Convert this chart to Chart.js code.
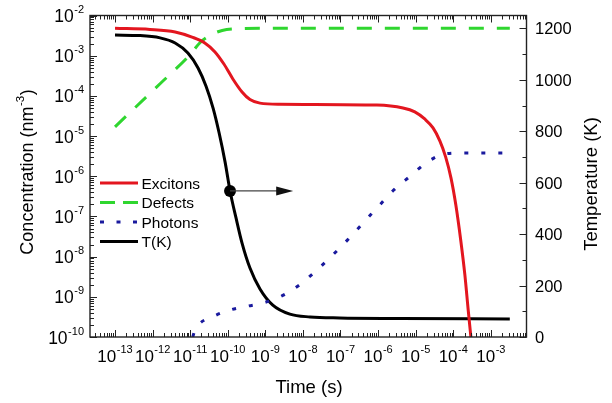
<!DOCTYPE html>
<html>
<head>
<meta charset="utf-8">
<script src="https://cdn.jsdelivr.net/npm/chart.js@4.4.1/dist/chart.umd.min.js"></script>
<style>
  html, body { margin: 0; padding: 0; background: #fff; }
</style>
</head>
<body>
<canvas id="chart" width="612" height="403"></canvas>
<script>
// values (time in s, concentration in nm^-3, T in K)
const timeExcitons = [1e-13, 8.5e-13, 3.98e-12, 1.12e-11, 2.45e-11, 4.57e-11, 7.9e-11, 1.38e-10, 2.4e-10, 3.9e-10, 7.2e-10, 2.45e-9, 9.3e-7, 4.6e-6, 9.5e-6, 1.74e-5, 2.9e-5, 4.4e-5, 6.3e-5, 8.7e-5, 1.17e-4, 1.58e-4, 2.04e-4, 2.5e-4, 2.95e-4, 3.4e-4];
const excitons = [4.8e-3, 4.5e-3, 3.9e-3, 2.9e-3, 2.07e-3, 1.24e-3, 6.2e-4, 2.6e-4, 1.25e-4, 8.1e-5, 6.6e-5, 6.2e-5, 5.9e-5, 5.0e-5, 4.0e-5, 2.66e-5, 1.6e-5, 7.6e-6, 3.0e-6, 9.1e-7, 1.95e-7, 2.6e-8, 3.5e-9, 4.7e-10, 1e-10, 2.7e-11];

const timeDefects = [1e-13, 1.58e-12, 1e-11, 1.82e-11, 3.4e-11, 7.1e-11, 2.1e-10, 1e-9, 3.2e-3];
const defects = [1.7e-5, 2.0e-4, 1.07e-3, 2.1e-3, 3.2e-3, 4.25e-3, 4.7e-3, 4.8e-3, 4.8e-3];

const timePhotons = [1.17e-11, 1.35e-11, 4.1e-11, 1.15e-10, 3.5e-10, 9.1e-10, 2.75e-9, 7.4e-9, 2.1e-8, 5.9e-8, 1.48e-7, 4.0e-7, 9.8e-7, 2.45e-6, 7.1e-6, 2.1e-5, 6.0e-5, 1.7e-4, 3.2e-3];
const photons = [1e-10, 1.5e-10, 3.2e-10, 4.7e-10, 5.9e-10, 7.1e-10, 1.05e-9, 1.86e-9, 4.2e-9, 1.05e-8, 2.5e-8, 6.9e-8, 1.7e-7, 4.3e-7, 1.0e-6, 2.3e-6, 3.6e-6, 3.8e-6, 3.8e-6];

const timeTemp = [1e-13, 4.6e-13, 1.58e-12, 3.98e-12, 8.7e-12, 1.62e-11, 2.63e-11, 4.07e-11, 5.9e-11, 8.5e-11, 1.15e-10, 1.66e-10, 2.4e-10, 3.9e-10, 7.2e-10, 1.58e-9, 4.5e-9, 1.55e-8, 9.5e-8, 3.8e-6, 3.2e-3];
const temperature = [1174, 1172, 1163, 1143, 1104, 1046, 976, 890, 793, 680, 568, 463, 365, 268, 187, 124, 89, 78, 74, 72, 70];

const markerTime = [1.15e-10];
const markerTemp = [568];
const arrowTipTime = 5.5e-9;

const timeTickExps = ["-13", "-12", "-11", "-10", "-9", "-8", "-7", "-6", "-5", "-4", "-3"];
const concTickExps = ["-10", "-9", "-8", "-7", "-6", "-5", "-4", "-3", "-2"];
const tempTicks = [0, 200, 400, 600, 800, 1000, 1200];

const seriesNames = ["Excitons", "Defects", "Photons", "T(K)"];

const FONT = '"Liberation Sans", Arial, Helvetica, sans-serif';
const RED = "#e3161f";
const GREEN = "#2fd62f";
const BLUE = "#1a1a9e";
const BLACK = "#000000";

const pts = (xs, ys) => xs.map((x, i) => ({ x, y: ys[i] }));

function drawPow(ctx, exp, x, y, align, size, supSize, rise) {
  ctx.font = `${size}px ${FONT}`;
  const w1 = ctx.measureText("10").width;
  ctx.font = `${supSize}px ${FONT}`;
  const w2 = ctx.measureText(exp).width;
  const total = w1 + w2 + 0.5;
  let sx = align === "center" ? x - total / 2 : x - total;
  ctx.textAlign = "left";
  ctx.textBaseline = "alphabetic";
  ctx.font = `${size}px ${FONT}`;
  ctx.fillText("10", sx, y);
  ctx.font = `${supSize}px ${FONT}`;
  ctx.fillText(exp, sx + w1 + 0.5, y - rise);
}

const decor = {
  id: "decor",
  afterDraw(chart) {
    const { ctx, chartArea: a, scales } = chart;
    const xs = scales.x, ys = scales.y, yt = scales.y1;
    ctx.save();
    ctx.fillStyle = "#000";
    ctx.strokeStyle = "#222";
    ctx.lineWidth = 1;

    // log ticks, bottom and top (inward)
    ctx.beginPath();
    for (let n = -14; n <= -2; n++) {
      for (let m = 1; m <= 9; m++) {
        const v = m * Math.pow(10, n);
        if (v < xs.min || v > xs.max) continue;
        const px = Math.round(xs.getPixelForValue(v)) + 0.5;
        const len = m === 1 ? 7 : 4;
        ctx.moveTo(px, a.bottom); ctx.lineTo(px, a.bottom - len);
        ctx.moveTo(px, a.top); ctx.lineTo(px, a.top + len);
      }
    }
    // log ticks, left
    for (let n = -10; n <= -2; n++) {
      for (let m = 1; m <= 9; m++) {
        const v = m * Math.pow(10, n);
        if (v < ys.min || v > ys.max) continue;
        const py = Math.round(ys.getPixelForValue(v)) + 0.5;
        const len = m === 1 ? 7 : 4;
        ctx.moveTo(a.left, py); ctx.lineTo(a.left + len, py);
      }
    }
    // temperature ticks, right
    for (let t = 0; t <= 1200; t += 100) {
      const py = Math.round(yt.getPixelForValue(t)) + 0.5;
      const len = t % 200 === 0 ? 7 : 4;
      ctx.moveTo(a.right, py); ctx.lineTo(a.right - len, py);
    }
    ctx.stroke();

    // frame
    ctx.lineWidth = 1.4;
    ctx.strokeStyle = "#222";
    ctx.strokeRect(a.left, a.top, a.right - a.left, a.bottom - a.top);

    // tick labels
    timeTickExps.forEach((e) => {
      const px = xs.getPixelForValue(Math.pow(10, Number(e)));
      drawPow(ctx, e, px, 361.5, "center", 17, 11, 8.5);
    });
    concTickExps.forEach((e) => {
      const py = ys.getPixelForValue(Math.pow(10, Number(e)));
      drawPow(ctx, e, 84, py + 6.5, "right", 17.5, 11, 9);
    });
    ctx.font = `16.5px ${FONT}`;
    ctx.textAlign = "left";
    tempTicks.forEach((t) => {
      const py = yt.getPixelForValue(t);
      ctx.fillText(String(t), 535, py + 6);
    });

    // axis titles
    ctx.font = `18.5px ${FONT}`;
    ctx.textAlign = "center";
    ctx.fillText("Time (s)", 309, 393);

    ctx.save();
    ctx.translate(597, 184);
    ctx.rotate(-Math.PI / 2);
    ctx.font = `18.5px ${FONT}`;
    ctx.textAlign = "center";
    ctx.fillText("Temperature (K)", 0, 0);
    ctx.restore();

    ctx.save();
    ctx.translate(33, 172);
    ctx.rotate(-Math.PI / 2);
    ctx.textAlign = "left";
    ctx.font = `18px ${FONT}`;
    const p1 = "Concentration (nm", p3 = ")";
    const w1 = ctx.measureText(p1).width, w3 = ctx.measureText(p3).width;
    ctx.font = `11.5px ${FONT}`;
    const w2 = ctx.measureText("-3").width;
    let sx = -(w1 + w2 + w3 + 1) / 2;
    ctx.font = `18px ${FONT}`;
    ctx.fillText(p1, sx, 0);
    ctx.font = `11.5px ${FONT}`;
    ctx.fillText("-3", sx + w1 + 0.5, -9);
    ctx.font = `18px ${FONT}`;
    ctx.fillText(p3, sx + w1 + w2 + 1, 0);
    ctx.restore();

    // legend
    const rows = [183, 202.5, 222, 241.5];
    const styles = [
      { c: RED, dash: [] },
      { c: GREEN, dash: [15, 8] },
      { c: BLUE, dash: [4, 12.5] },
      { c: BLACK, dash: [] }
    ];
    seriesNames.forEach((name, i) => {
      const y = rows[i];
      ctx.save();
      ctx.strokeStyle = styles[i].c;
      ctx.lineWidth = 3;
      ctx.setLineDash(styles[i].dash);
      ctx.beginPath();
      ctx.moveTo(100, y); ctx.lineTo(138, y);
      ctx.stroke();
      ctx.restore();
      ctx.font = `15.5px ${FONT}`;
      ctx.textAlign = "left";
      ctx.fillStyle = "#000";
      ctx.fillText(name, 141.5, y + 5.5);
    });

    // arrow from the T(K) marker toward the temperature axis
    const mx = xs.getPixelForValue(markerTime[0]);
    const my = yt.getPixelForValue(markerTemp[0]);
    const tip = xs.getPixelForValue(arrowTipTime);
    ctx.strokeStyle = "#444";
    ctx.lineWidth = 1.2;
    ctx.beginPath();
    ctx.moveTo(mx, my); ctx.lineTo(tip - 15, my);
    ctx.stroke();
    ctx.fillStyle = "#111";
    ctx.beginPath();
    ctx.moveTo(tip, my);
    ctx.lineTo(tip - 17, my - 4.5);
    ctx.lineTo(tip - 17, my + 4.5);
    ctx.closePath();
    ctx.fill();

    ctx.restore();
  }
};

new Chart(document.getElementById("chart"), {
  type: "line",
  data: {
    datasets: [
      { label: "Excitons", data: pts(timeExcitons, excitons), yAxisID: "y", borderColor: RED, borderWidth: 3, pointRadius: 0, cubicInterpolationMode: "monotone" },
      { label: "Defects", data: pts(timeDefects, defects), yAxisID: "y", borderColor: GREEN, borderWidth: 3, borderDash: [15, 13], pointRadius: 0, cubicInterpolationMode: "monotone" },
      { label: "Photons", data: pts(timePhotons, photons), yAxisID: "y", borderColor: BLUE, borderWidth: 3, borderDash: [4, 13], pointRadius: 0, cubicInterpolationMode: "monotone" },
      { label: "T(K)", data: pts(timeTemp, temperature), yAxisID: "y1", borderColor: BLACK, borderWidth: 3, pointRadius: 0, cubicInterpolationMode: "monotone" },
      { label: "marker", data: pts(markerTime, markerTemp), yAxisID: "y1", showLine: false, pointRadius: 6, pointBackgroundColor: BLACK, pointBorderWidth: 0 }
    ]
  },
  options: {
    responsive: false,
    animation: false,
    devicePixelRatio: 1,
    layout: { padding: { left: 90, right: 85.5, top: 15.5, bottom: 66 } },
    plugins: { legend: { display: false }, tooltip: { enabled: false } },
    scales: {
      x: { type: "logarithmic", display: false, min: 2.16e-14, max: 8.9e-3 },
      y: { type: "logarithmic", display: false, min: 1e-10, max: 1e-2 },
      y1: { type: "linear", display: false, min: 0, max: 1250 }
    }
  },
  plugins: [decor]
});
</script>
</body>
</html>
